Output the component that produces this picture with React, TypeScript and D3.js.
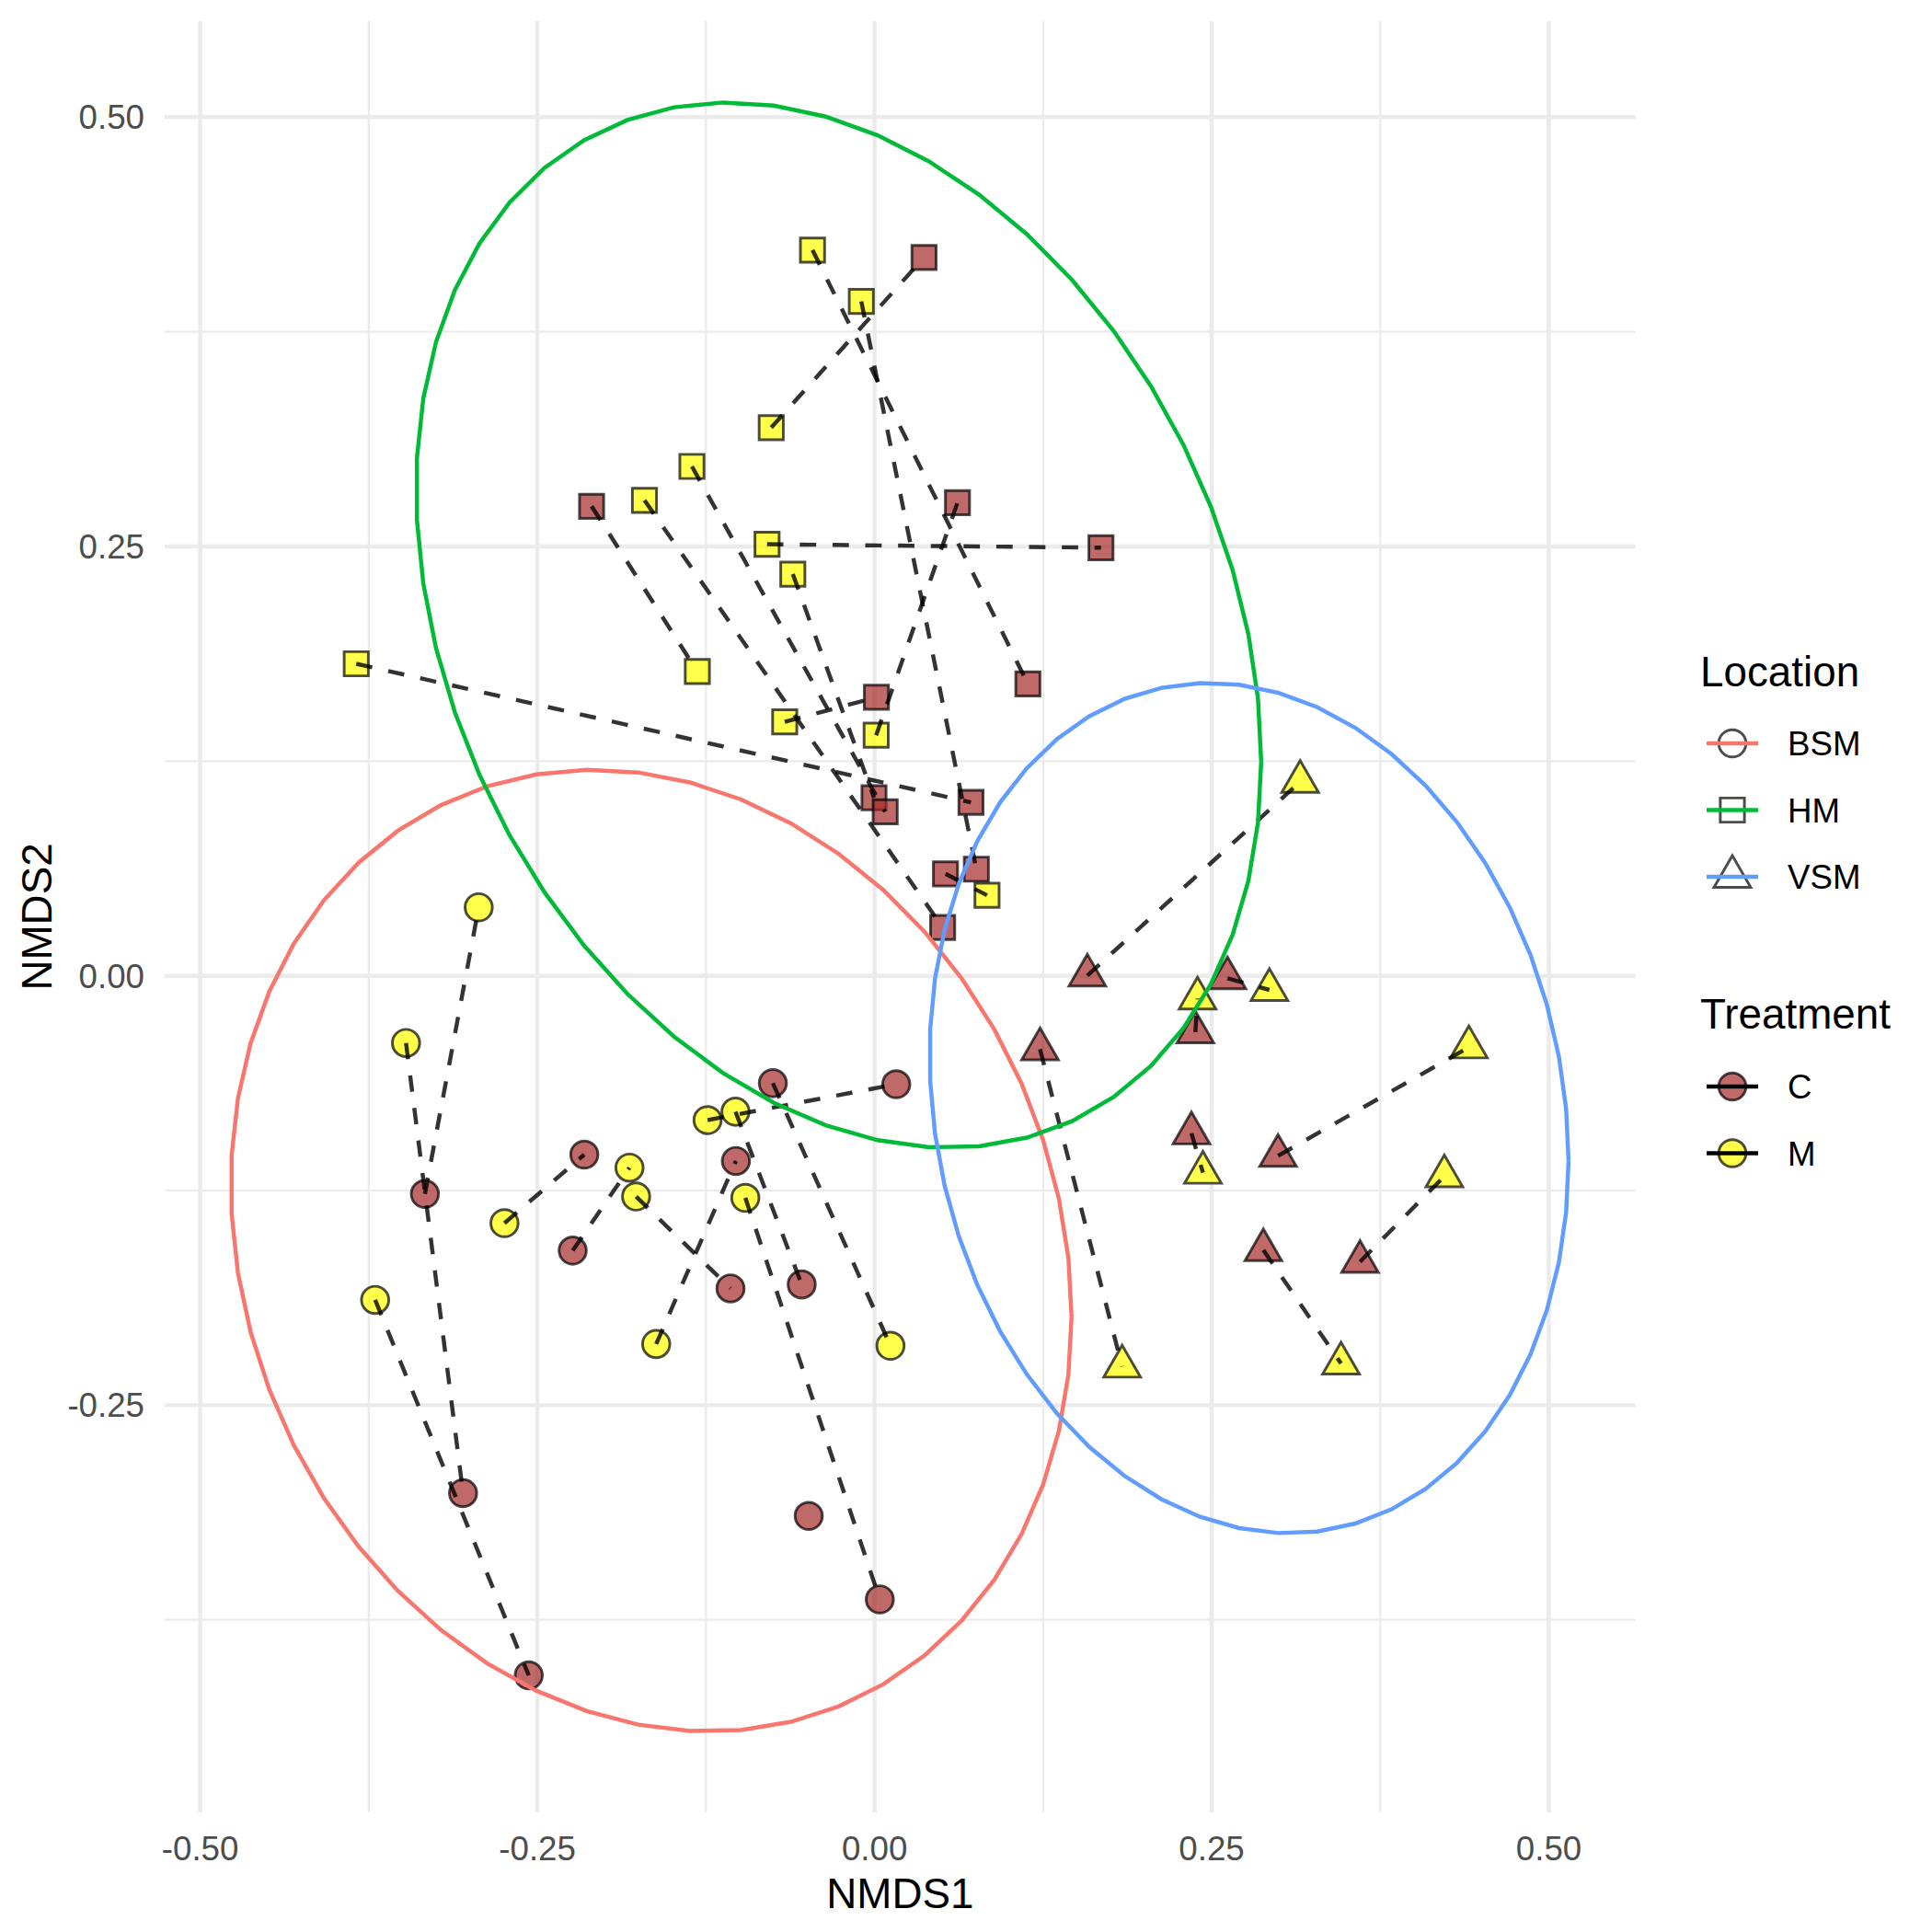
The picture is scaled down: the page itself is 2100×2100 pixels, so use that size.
import React from "react";
import * as d3 from "d3";

// ---------- data ----------
const locations = ["BSM", "HM", "VSM"];
const treatments = ["C", "M"];
const locationColors = ["#F8766D", "#00BA38", "#619CFF"];
const treatmentFills = ["#A52A2A", "#FFFF00"];

// BSM (circles): C and M arrays are paired by index (null = no partner)
const bsmCx = [-0.0754, 0.0161, -0.2152, -0.1028, -0.3334, -0.2238, -0.1068, -0.054, -0.3051, -0.0488, 0.0039, -0.2564];
const bsmCy = [-0.0625, -0.0631, -0.1041, -0.1078, -0.127, -0.16, -0.182, -0.1797, -0.3012, -0.3145, -0.3631, -0.4073];
const bsmMx = [0.0118, -0.1238, -0.2744, -0.1619, -0.2935, -0.1817, -0.1768, -0.1031, -0.3474, null, -0.0958, -0.3703];
const bsmMy = [-0.2154, -0.084, -0.144, -0.2144, 0.0399, -0.1117, -0.1285, -0.0791, -0.0391, null, -0.1293, -0.1887];

// HM (squares)
const hmCx = [0.0367, -0.2098, 0.0615, 0.1679, 0.1137, 0.0014, -0.0004, 0.0079, 0.0715, 0.0526, 0.0755, 0.0505];
const hmCy = [0.4183, 0.2734, 0.2755, 0.2493, 0.17, 0.1622, 0.1037, 0.0955, 0.101, 0.0594, 0.0621, 0.0282];
const hmMx = [-0.0766, -0.1314, 0.0012, -0.0797, -0.046, -0.0666, -0.0606, -0.1354, -0.3843, 0.0834, -0.0098, -0.1706];
const hmMy = [0.3192, 0.1772, 0.1401, 0.2513, 0.4226, 0.1479, 0.2339, 0.2966, 0.1817, 0.0469, 0.3927, 0.2769];

// VSM (triangles)
const vsmCx = [0.1578, 0.2617, 0.2379, 0.1227, 0.235, 0.2992, 0.2883, 0.36];
const vsmCy = [0.0002, -0.0014, -0.0328, -0.0427, -0.0917, -0.1048, -0.1597, -0.1665];
const vsmMx = [0.3156, 0.2928, 0.2395, 0.1836, 0.2435, 0.4407, 0.3459, 0.4225];
const vsmMy = [0.113, -0.0082, -0.0132, -0.2275, -0.1146, -0.0416, -0.2257, -0.1167];

// 95% ellipses (centre and scaled covariance) per location
const ellipseCenterX = [-0.1656, -0.0266, 0.2777];
const ellipseCenterY = [-0.16, 0.2042, -0.077];
const ellipseVarX = [0.09716, 0.09816, 0.05612];
const ellipseVarY = [0.0784, 0.09263, 0.0613];
const ellipseCovXY = [-0.012, -0.0249, -0.0073];

const xTicks = [-0.5, -0.25, 0, 0.25, 0.5];
const xTickLabels = ["-0.50", "-0.25", "0.00", "0.25", "0.50"];
const yTicks = [-0.25, 0, 0.25, 0.5];
const yTickLabels = ["-0.25", "0.00", "0.25", "0.50"];
const xMinor = [-0.375, -0.125, 0.125, 0.375];
const yMinor = [-0.375, -0.125, 0.125, 0.375];

// ---------- layout ----------
const FONT = "'Liberation Sans', Arial, Helvetica, sans-serif";
const PANEL = { left: 179.1, right: 1777.6, top: 22.9, bottom: 1970 };
const PT = 39.5; // point fontsize in px
const STROKE_W = 2.95;

function shapePath(shape: number, cx: number, cy: number): string {
  if (shape === 0) {
    const r = 0.375 * PT;
    return `M${cx + r},${cy}A${r},${r} 0 1,1 ${cx - r},${cy}A${r},${r} 0 1,1 ${cx + r},${cy}Z`;
  }
  if (shape === 1) {
    const h = 0.375 * 0.886227 * PT;
    return `M${cx - h},${cy - h}L${cx + h},${cy - h}L${cx + h},${cy + h}L${cx - h},${cy + h}Z`;
  }
  const base = 0.375 * PT;
  const r = 1.55512 * base;
  const yc = 0.77756 * base;
  const xc = 1.346774 * base;
  return `M${cx},${cy - r}L${cx + xc},${cy + yc}L${cx - xc},${cy + yc}Z`;
}

export default function App() {
  const groups = [
    { cx: bsmCx, cy: bsmCy, mx: bsmMx, my: bsmMy },
    { cx: hmCx, cy: hmCy, mx: hmMx, my: hmMy },
    { cx: vsmCx, cy: vsmCy, mx: vsmMx, my: vsmMy },
  ];

  const segments = 51;
  const ellipses = locations.map((_, i) => {
    const r11 = Math.sqrt(ellipseVarX[i]);
    const r12 = ellipseCovXY[i] / r11;
    const r22 = Math.sqrt(ellipseVarY[i] - r12 * r12);
    return d3.range(segments + 1).map((k) => {
      const t = (2 * Math.PI * k) / segments;
      const c = Math.cos(t);
      const s = Math.sin(t);
      return [ellipseCenterX[i] + c * r11, ellipseCenterY[i] + c * r12 + s * r22] as [number, number];
    });
  });

  const allPts: [number, number][] = [];
  ellipses.forEach((e) => e.forEach((p) => allPts.push(p)));
  groups.forEach((g) => {
    g.cx.forEach((x, i) => allPts.push([x, g.cy[i]]));
    g.mx.forEach((x, i) => {
      if (x !== null) allPts.push([x as number, g.my[i] as number]);
    });
  });
  const xe = d3.extent(allPts, (d) => d[0]) as [number, number];
  const ye = d3.extent(allPts, (d) => d[1]) as [number, number];
  const dx = xe[1] - xe[0];
  const dy = ye[1] - ye[0];
  const x = d3.scaleLinear().domain([xe[0] - 0.05 * dx, xe[1] + 0.05 * dx]).range([PANEL.left, PANEL.right]);
  const y = d3.scaleLinear().domain([ye[0] - 0.05 * dy, ye[1] + 0.05 * dy]).range([PANEL.bottom, PANEL.top]);

  const line = d3.line<[number, number]>().x((d) => x(d[0])).y((d) => y(d[1]));

  // segments: start at the lower x end (geom_line ordering)
  const pairLines: [number, number][][] = [];
  groups.forEach((g) => {
    g.cx.forEach((cxv, i) => {
      const mxv = g.mx[i];
      if (mxv === null) return;
      const a: [number, number] = [cxv, g.cy[i]];
      const b: [number, number] = [mxv as number, g.my[i] as number];
      pairLines.push(a[0] <= b[0] ? [a, b] : [b, a]);
    });
  });

  const legendKeyX = 1883;
  const legendLineX0 = 1855;
  const legendLineX1 = 1911;
  const legendLabelX = 1943;
  const legendTitleX = 1848;
  const locKeyY = [808, 880.5, 953];
  const trtKeyY = [1181, 1253.5];

  return (
    <svg
      width={2100}
      height={2100}
      style={{ position: "absolute", left: 0, top: 0, background: "#fff" }}
      fontFamily={FONT}
    >
      <rect x={0} y={0} width={2100} height={2100} fill="#fff" />
      {/* minor grid */}
      {xMinor.map((v) => (
        <line key={"xm" + v} x1={x(v)} x2={x(v)} y1={PANEL.top} y2={PANEL.bottom} stroke="#EBEBEB" strokeWidth={2.2} />
      ))}
      {yMinor.map((v) => (
        <line key={"ym" + v} x1={PANEL.left} x2={PANEL.right} y1={y(v)} y2={y(v)} stroke="#EBEBEB" strokeWidth={2.2} />
      ))}
      {/* major grid */}
      {xTicks.map((v) => (
        <line key={"xM" + v} x1={x(v)} x2={x(v)} y1={PANEL.top} y2={PANEL.bottom} stroke="#EBEBEB" strokeWidth={4.45} />
      ))}
      {yTicks.map((v) => (
        <line key={"yM" + v} x1={PANEL.left} x2={PANEL.right} y1={y(v)} y2={y(v)} stroke="#EBEBEB" strokeWidth={4.45} />
      ))}

      {/* points: C first, then M */}
      {[0, 1].map((t) =>
        groups.map((g, li) => {
          const xs = t === 0 ? g.cx : g.mx;
          const ys = t === 0 ? g.cy : g.my;
          return xs.map((xv, i) =>
            xv === null ? null : (
              <path
                key={`p${t}-${li}-${i}`}
                d={shapePath(li, x(xv as number), y(ys[i] as number))}
                fill={treatmentFills[t]}
                fillOpacity={0.7}
                stroke="#000"
                strokeOpacity={0.7}
                strokeWidth={STROKE_W}
              />
            )
          );
        })
      )}

      {/* paired dashed lines */}
      {pairLines.map((p, i) => (
        <path
          key={"l" + i}
          d={line(p) as string}
          fill="none"
          stroke="#000"
          strokeOpacity={0.8}
          strokeWidth={4.45}
          strokeDasharray="17.8 17.8"
        />
      ))}

      {/* ellipses */}
      {ellipses.map((e, i) => (
        <path key={"e" + i} d={line(e) as string} fill="none" stroke={locationColors[i]} strokeWidth={4.45} />
      ))}

      {/* axes text */}
      {xTicks.map((v, i) => (
        <text key={"xt" + v} x={x(v)} y={2022} textAnchor="middle" fontSize={36.7} fill="#4D4D4D">
          {xTickLabels[i]}
        </text>
      ))}
      {yTicks.map((v, i) => (
        <text key={"yt" + v} x={157} y={y(v) + 13.1} textAnchor="end" fontSize={36.7} fill="#4D4D4D">
          {yTickLabels[i]}
        </text>
      ))}
      <text x={(PANEL.left + PANEL.right) / 2} y={2074} textAnchor="middle" fontSize={45.8} fill="#000">
        NMDS1
      </text>
      <text
        transform={`translate(56,${(PANEL.top + PANEL.bottom) / 2}) rotate(-90)`}
        textAnchor="middle"
        fontSize={45.8}
        fill="#000"
      >
        NMDS2
      </text>

      {/* legend: Location */}
      <text x={legendTitleX} y={730 + 16.4} fontSize={45.8} fill="#000">
        Location
      </text>
      {locations.map((loc, i) => (
        <g key={"lk" + loc}>
          <path
            d={shapePath(i, legendKeyX, locKeyY[i])}
            fill="none"
            stroke="#000"
            strokeOpacity={0.7}
            strokeWidth={STROKE_W}
          />
          <line
            x1={legendLineX0}
            x2={legendLineX1}
            y1={locKeyY[i]}
            y2={locKeyY[i]}
            stroke={locationColors[i]}
            strokeWidth={4.45}
          />
          <text x={legendLabelX} y={locKeyY[i] + 13.1} fontSize={36.7} fill="#000">
            {loc}
          </text>
        </g>
      ))}

      {/* legend: Treatment */}
      <text x={legendTitleX} y={1102 + 16.4} fontSize={45.8} fill="#000">
        Treatment
      </text>
      {treatments.map((tr, i) => (
        <g key={"tk" + tr}>
          <path
            d={shapePath(0, legendKeyX, trtKeyY[i])}
            fill={treatmentFills[i]}
            fillOpacity={0.7}
            stroke="#000"
            strokeOpacity={0.7}
            strokeWidth={STROKE_W}
          />
          <line x1={legendLineX0} x2={legendLineX1} y1={trtKeyY[i]} y2={trtKeyY[i]} stroke="#000" strokeWidth={4.45} />
          <text x={legendLabelX} y={trtKeyY[i] + 13.1} fontSize={36.7} fill="#000">
            {tr}
          </text>
        </g>
      ))}
    </svg>
  );
}
